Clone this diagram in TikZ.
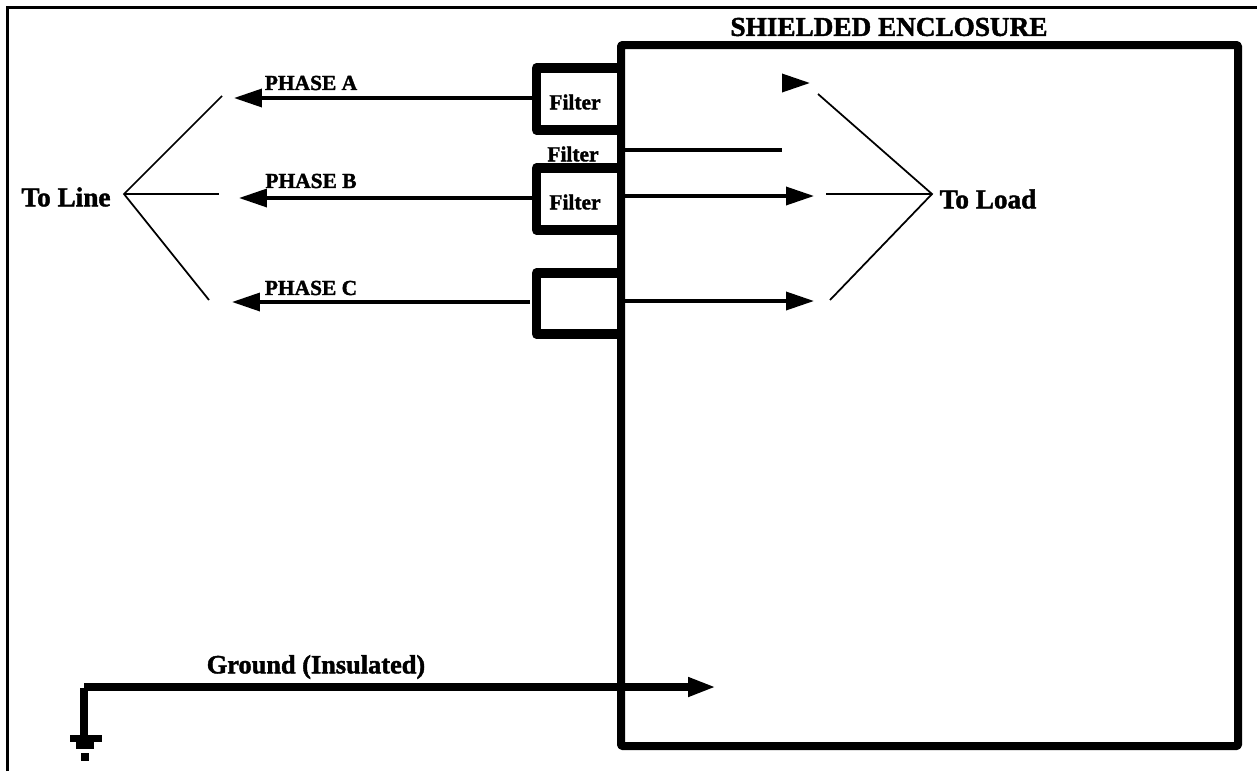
\documentclass[tikz,border=0pt]{standalone}
\usepackage{fontspec}
\setmainfont[BoldFeatures={FakeBold=1.6}]{Liberation Serif}
\usetikzlibrary{arrows.meta}
\begin{document}
\begin{tikzpicture}[x=0.02cm,y=-0.02cm,
	frameline/.style={line width=0.06cm},
	wall/.style={line width=0.16cm,line join=round},
	boxwall/.style={line width=0.19cm,line join=round},
	wire/.style={line width=0.07cm},
	thinwire/.style={line width=0.035cm},
	headwire/.style={wire,-{Triangle[length=0.56cm,width=0.36cm]}},
	biglabel/.style={inner sep=0pt,font=\fontsize{15.5pt}{17pt}\selectfont\bfseries},
	smalllabel/.style={inner sep=0pt,font=\fontsize{12.2pt}{14pt}\selectfont\bfseries}]
	\useasboundingbox (0,0) rectangle (1257,771);
	\draw[frameline](7.5,771)--(7.5,7)--(1257,7);
	\node[biglabel] (title) at (889,27) {SHIELDED ENCLOSURE};
	\node[biglabel] (toline) at (66,197) {To Line};
	\node[biglabel] (toload) at (988,199) {To Load};
	\node[smalllabel] (phasea) at (311,83) {PHASE A};
	\node[smalllabel] (phaseb) at (311,181) {PHASE B};
	\node[smalllabel] (phasec) at (311,288) {PHASE C};
	\node[smalllabel] (filtera) at (575,102) {Filter};
	\node[smalllabel] (filterx) at (573,154) {Filter};
	\node[smalllabel] (filterb) at (575,202) {Filter};
	\node[biglabel,font=\fontsize{15pt}{17pt}\selectfont\bfseries] (ground) at (316,667) {Ground (Insulated)};
	\draw[wall,rounded corners=0.02cm](621,45) rectangle (1238,746);
	\draw[boxwall](621,68)--(536.5,68)--(536.5,130)--(621,130);
	\draw[boxwall](621,168)--(536.5,168)--(536.5,230)--(621,230);
	\draw[boxwall](621,273)--(536.5,273)--(536.5,334)--(621,334);
	\coordinate (lineapex) at (124,194);
	\coordinate (linea) at (222,96);
	\coordinate (lineb) at (219,194);
	\coordinate (linec) at (209,300);
	\coordinate (loadapex) at (932,194);
	\coordinate (loada) at (818,94);
	\coordinate (loadb) at (826,194);
	\coordinate (loadc) at (830,300);
	\draw[thinwire](linea)--(lineapex)--(linec);
	\draw[thinwire](lineapex)--(lineb);
	\draw[thinwire](loada)--(loadapex)--(loadc);
	\draw[thinwire](loadapex)--(loadb);
	\coordinate (outa) at (532,98);
	\coordinate (tipa) at (234,98);
	\coordinate (outb) at (532,198);
	\coordinate (tipb) at (239,198);
	\coordinate (outc) at (530,302);
	\coordinate (tipc) at (232,302);
	\draw[headwire](outa)--(tipa);
	\draw[headwire](outb)--(tipb);
	\draw[headwire](outc)--(tipc);
	\coordinate (ina) at (625,150);
	\coordinate (inaend) at (782,150);
	\coordinate (headbase) at (782,83);
	\coordinate (headtip) at (810,83);
	\coordinate (inb) at (625,196);
	\coordinate (tipbb) at (814,196);
	\coordinate (inc) at (625,301);
	\coordinate (tipcc) at (814,301);
	\draw[wire](ina)--(inaend);
	\draw[headwire](headbase)--(headtip);
	\draw[headwire](inb)--(tipbb);
	\draw[headwire](inc)--(tipcc);
	\coordinate (earth) at (84,687);
	\coordinate (earthtop) at (84,688);
	\coordinate (earthdown) at (84,736);
	\coordinate (groundtip) at (716,687);
	\draw[line width=0.16cm](earthdown)--(earthtop);
	\draw[line width=0.16cm,-{Triangle[length=0.56cm,width=0.36cm]}](earth)--(groundtip);
	\draw[line width=0.14cm](70,738.5)--(102,738.5);
	\draw[line width=0.14cm](76,745.5)--(94,745.5);
	\draw[line width=0.16cm](85,753)--(85,761);
\end{tikzpicture}
\end{document}
